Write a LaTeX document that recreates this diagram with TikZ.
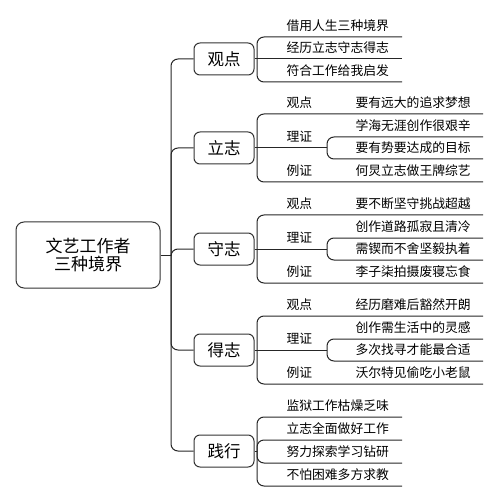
\documentclass[tikz,border=0pt]{standalone}
\usepackage{fontspec}
\newfontfamily\cjk{Noto Sans CJK SC}
\newcommand\rootfont{\cjk\fontsize{17}{18}\selectfont}
\newcommand\topicfont{\cjk\fontsize{16.5}{18}\selectfont}
\newcommand\leaffont{\cjk\fontsize{12.8}{15}\selectfont}

\tikzset{
  rootbox/.style={draw=black!80, rounded corners=8pt, minimum width=144pt, minimum height=66pt, align=center, font=\rootfont},
  topicbox/.style={draw=black!80, rounded corners=6pt, minimum width=60pt, minimum height=32pt, font=\topicfont},
  leaf/.style={anchor=south west, inner sep=0pt, text height=11pt, text depth=6pt, text width=#1, align=left, font=\leaffont},
  leaf/.default=115pt,
  tag/.style={anchor=south west, inner sep=0pt, text height=11pt, text depth=6pt, font=\leaffont},
  link/.style={draw=black!85, rounded corners=7pt},
}

\begin{document}
\begin{tikzpicture}[x=1pt,y=-1pt,line width=1pt]
	\useasboundingbox (0,0) rectangle (499,502);
	% root and main topics
	\node[rootbox] (root) at (88,255) {文艺工作者\\三种境界};
	\coordinate (hub) at (171,255);
	\node[topicbox] (guandian) at (224,59) {观点};
	\node[topicbox] (lizhi) at (224,148) {立志};
	\node[topicbox] (shouzhi) at (224,249) {守志};
	\node[topicbox] (dezhi) at (224,350) {得志};
	\node[topicbox] (jianxing) at (224,451) {践行};
	\draw[link] (root.east) -- (hub);
	\draw[link] (hub) |- (guandian.west);
	\draw[link] (hub) |- (lizhi.west);
	\draw[link] (hub) |- (shouzhi.west);
	\draw[link] (hub) |- (dezhi.west);
	\draw[link] (hub) |- (jianxing.west);

	% guandian
	\coordinate (gdb) at (257,59);
	\node[leaf] (gd1) at (286,37) {借用人生三种境界};
	\node[leaf] (gd2) at (286,59) {经历立志守志得志};
	\node[leaf] (gd3) at (286,82) {符合工作给我启发};
	\draw[link] (guandian.east) -- (gdb);
	\draw[link] (gdb) |- (gd1.south east);
	\draw[link] (gdb) -- (gd2.south east);
	\draw[link] (gdb) |- (gd3.south east);

	% lizhi
	\coordinate (lzb) at (257,148);
	\coordinate (lzr) at (327,148);
	\node[tag] (lzg) at (286,114) {观点};
	\node[leaf=127pt] (lzg1) at (355,114) {要有远大的追求梦想};
	\node[tag] (lzl) at (286,148) {理证};
	\node[leaf=127pt] (lzl1) at (355,137) {学海无涯创作很艰辛};
	\node[leaf=127pt] (lzl2) at (355,159) {要有势要达成的目标};
	\node[tag] (lzs) at (286,182) {例证};
	\node[leaf=127pt] (lzs1) at (355,182) {何炅立志做王牌综艺};
	\draw[link] (lizhi.east) -- (lzb);
	\draw[link] (lzb) |- (lzg1.south east);
	\draw[link] (lzb) -- (lzr);
	\draw[link] (lzr) |- (lzl1.south east);
	\draw[link] (lzr) |- (lzl2.south east);
	\draw[link] (lzb) |- (lzs1.south east);

	% shouzhi
	\coordinate (szb) at (257,249);
	\coordinate (szr) at (327,249);
	\node[tag] (szg) at (286,215) {观点};
	\node[leaf=127pt] (szg1) at (355,215) {要不断坚守挑战超越};
	\node[tag] (szl) at (286,249) {理证};
	\node[leaf=127pt] (szl1) at (355,238) {创作道路孤寂且清冷};
	\node[leaf=127pt] (szl2) at (355,260) {需锲而不舍坚毅执着};
	\node[tag] (szs) at (286,283) {例证};
	\node[leaf=127pt] (szs1) at (355,283) {李子柒拍摄废寝忘食};
	\draw[link] (shouzhi.east) -- (szb);
	\draw[link] (szb) |- (szg1.south east);
	\draw[link] (szb) -- (szr);
	\draw[link] (szr) |- (szl1.south east);
	\draw[link] (szr) |- (szl2.south east);
	\draw[link] (szb) |- (szs1.south east);

	% dezhi
	\coordinate (dzb) at (257,350);
	\coordinate (dzr) at (327,350);
	\node[tag] (dzg) at (286,316) {观点};
	\node[leaf=127pt] (dzg1) at (355,316) {经历磨难后豁然开朗};
	\node[tag] (dzl) at (286,350) {理证};
	\node[leaf=127pt] (dzl1) at (355,339) {创作需生活中的灵感};
	\node[leaf=127pt] (dzl2) at (355,361) {多次找寻才能最合适};
	\node[tag] (dzs) at (286,384) {例证};
	\node[leaf=127pt] (dzs1) at (355,384) {沃尔特见偷吃小老鼠};
	\draw[link] (dezhi.east) -- (dzb);
	\draw[link] (dzb) |- (dzg1.south east);
	\draw[link] (dzb) -- (dzr);
	\draw[link] (dzr) |- (dzl1.south east);
	\draw[link] (dzr) |- (dzl2.south east);
	\draw[link] (dzb) |- (dzs1.south east);

	% jianxing
	\coordinate (jxb) at (257,451);
	\node[leaf] (jx1) at (286,417) {监狱工作枯燥乏味};
	\node[leaf] (jx2) at (286,440) {立志全面做好工作};
	\node[leaf] (jx3) at (286,463) {努力探索学习钻研};
	\node[leaf] (jx4) at (286,486) {不怕困难多方求教};
	\draw[link] (jianxing.east) -- (jxb);
	\draw[link] (jxb) |- (jx1.south east);
	\draw[link] (jxb) |- (jx2.south east);
	\draw[link] (jxb) |- (jx3.south east);
	\draw[link] (jxb) |- (jx4.south east);
\end{tikzpicture}
\end{document}
